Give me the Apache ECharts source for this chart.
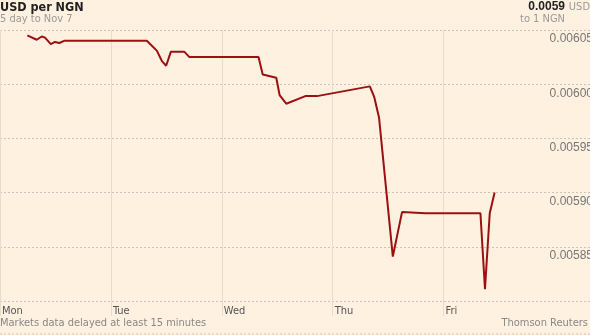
<!DOCTYPE html>
<html>
<head>
<meta charset="utf-8">
<script src="https://cdn.jsdelivr.net/npm/echarts@6/dist/echarts.min.js"></script>
<style>
  html, body { margin: 0; padding: 0; background: #fff1e0; }
  #chart { width: 590px; height: 335px; }
</style>
</head>
<body>
<div id="chart"></div>
<script>
// days since Monday 00:00 (trading days only)
const dayPos = [0.246, 0.331, 0.376, 0.406, 0.458, 0.496, 0.535, 0.578, 1.324, 1.414,
  1.462, 1.498, 1.541, 1.661, 1.708, 2.331, 2.369, 2.491, 2.521, 2.581,
  2.753, 2.858, 3.335, 3.375, 3.418, 3.542, 3.625, 3.836, 4.332, 4.373,
  4.416, 4.460];
const rate = [0.006045, 0.006041, 0.006044, 0.006043, 0.006037, 0.006039, 0.006038, 0.006040, 0.006040, 0.006031,
  0.006021, 0.006017, 0.006030, 0.006030, 0.006025, 0.006025, 0.006009, 0.006006, 0.005990, 0.005982,
  0.005989, 0.005989, 0.005998, 0.005988, 0.005969, 0.005841, 0.005882, 0.005881, 0.005881, 0.005811,
  0.005881, 0.005900];
const dayLabels = ['Mon', 'Tue', 'Wed', 'Thu', 'Fri'];
const dayTicks = [0, 1, 2, 3, 4];
const yTicks = [0.0058, 0.00585, 0.0059, 0.00595, 0.006, 0.00605];

const narrow = '"Liberation Sans Narrow", "DejaVu Sans Condensed", "Liberation Sans", sans-serif';
const regular = '"Liberation Sans", Arial, sans-serif';

const chart = echarts.init(document.getElementById('chart'));

chart.setOption({
  animation: false,
  backgroundColor: '#fff1e0',
  grid: { left: 0, right: 0, top: 30, bottom: 34, containLabel: false, outerBoundsMode: 'none' },
  xAxis: {
    type: 'value',
    min: 0,
    max: 5.32,
    axisLine: { show: false },
    axisTick: {
      show: true,
      customValues: dayTicks,
      length: 15,
      lineStyle: { color: '#e8dccb', width: 1 }
    },
    axisLabel: {
      customValues: dayTicks,
      formatter: v => dayLabels[Math.round(v)] || '',
      align: 'left',
      margin: 5,
      padding: [0, 0, 0, 2],
      color: '#555',
      fontFamily: narrow,
      fontSize: 11
    },
    splitLine: {
      show: true,
      lineStyle: { color: '#e8dccb', width: 1 }
    }
  },
  yAxis: {
    type: 'value',
    position: 'right',
    min: yTicks[0],
    max: yTicks[yTicks.length - 1],
    interval: 0.00005,
    axisLine: { show: false },
    axisTick: { show: false },
    axisLabel: {
      inside: true,
      margin: -3,
      showMinLabel: false,
      verticalAlign: 'top',
      padding: [3, 0, 0, 0],
      formatter: v => v.toFixed(5),
      color: '#777',
      fontFamily: regular,
      fontSize: 12
    },
    splitLine: {
      show: true,
      lineStyle: { color: '#cdc4b7', type: [2, 2], width: 1 }
    }
  },
  series: [{
    type: 'line',
    data: dayPos.map((d, i) => [d, rate[i]]),
    showSymbol: false,
    lineStyle: { color: '#9c1010', width: 2 },
    itemStyle: { color: '#9c1010' }
  }],
  graphic: [
    { type: 'text', left: 0, top: 1,
      style: { text: 'USD per NGN', font: 'bold 12.5px ' + narrow, fill: '#222' } },
    { type: 'text', left: 0, top: 14,
      style: { text: '5 day to Nov 7', font: '11px ' + narrow, fill: '#999' } },
    { type: 'text', right: 25, top: 1,
      style: { text: '0.0059', font: 'bold 12px ' + regular, fill: '#222' } },
    { type: 'text', right: 0, top: 2,
      style: { text: 'USD', font: '11px ' + narrow, fill: '#999' } },
    { type: 'text', right: 25, top: 14,
      style: { text: 'to 1 NGN', font: '11px ' + narrow, fill: '#999' } },
    { type: 'text', left: 0, top: 318,
      style: { text: 'Markets data delayed at least 15 minutes', font: '11px ' + narrow, fill: '#888' } },
    { type: 'text', right: 2, top: 318,
      style: { text: 'Thomson Reuters', font: '11px ' + narrow, fill: '#888' } },
    { type: 'line', shape: { x1: 0, y1: 334, x2: 590, y2: 334 },
      style: { stroke: '#cdc4b7', lineDash: [2, 2], lineWidth: 1 } }
  ]
});
</script>
</body>
</html>
